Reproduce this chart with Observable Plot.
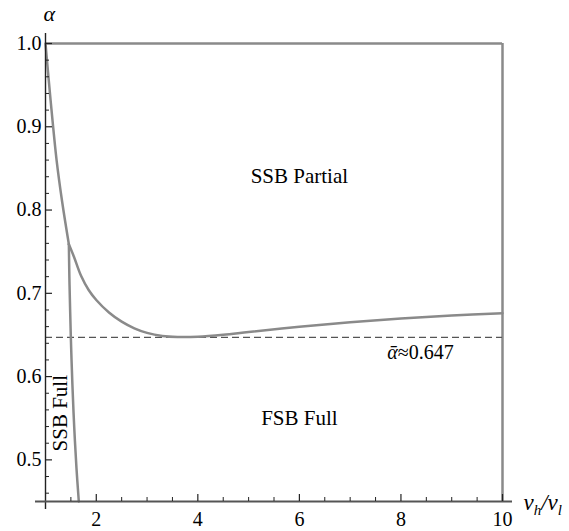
<!DOCTYPE html>
<html>
<head>
<meta charset="utf-8">
<script src="https://cdn.jsdelivr.net/npm/d3@7"></script>
<script src="https://cdn.jsdelivr.net/npm/@observablehq/plot@0.6"></script>
<style>
  html, body { margin: 0; padding: 0; background: #fff; }
  svg text { font-family: "Liberation Serif", "Times New Roman", serif !important; }
</style>
</head>
<body>
<div id="chart"></div>
<script>
// ---- data ----
const xDomain = [1, 10];
const yDomain = [0.45, 1.0];
const xMajorTicks = [2, 4, 6, 8, 10];
const xMinorTicks = [1.5, 2.5, 3, 3.5, 4.5, 5, 5.5, 6.5, 7, 7.5, 8.5, 9, 9.5];
const yMajorTicks = [0.5, 0.6, 0.7, 0.8, 0.9, 1.0];
const yMinorTicks = [0.46, 0.48, 0.52, 0.54, 0.56, 0.58, 0.62, 0.64, 0.66, 0.68,
                     0.72, 0.74, 0.76, 0.78, 0.82, 0.84, 0.86, 0.88, 0.92, 0.94, 0.96, 0.98];

// steep boundary from (1,1) down to the fork
const steepX = [1.0, 1.1, 1.22, 1.33, 1.46];
const steepY = [1.0, 0.932, 0.859, 0.809, 0.759];
// boundary between SSB Partial and FSB Full (from the fork)
const upperX = [1.46, 1.56, 1.7, 1.85, 2.0, 2.25, 2.5, 2.75, 3.0, 3.3, 3.6, 4.0, 4.5, 5, 6, 7, 8, 9, 10];
const upperY = [0.759, 0.744, 0.721, 0.704, 0.692, 0.677, 0.666, 0.658, 0.6525, 0.6488, 0.6476, 0.6479, 0.6502, 0.6535, 0.6598, 0.6652, 0.6697, 0.6733, 0.6762];
// boundary of SSB Full region
const ssbX = [1.46, 1.47, 1.485, 1.505, 1.53, 1.565, 1.61, 1.656];
const ssbY = [0.759, 0.72, 0.68, 0.635, 0.59, 0.54, 0.49, 0.45];

const alphaBar = 0.647;
const regionNames = ["SSB Partial", "FSB Full", "SSB Full"];
const regionX = [6.0, 6.0, 1.29];
const regionY = [0.84, 0.55, 0.556];
const regionRotate = [0, 0, -90];
const alphaBarText = "ᾱ≈0.647";
const alphaBarPos = [7.73, 0.629];

// ---- tables ----
const toPts = (xs, ys) => xs.map((x, i) => ({x, y: ys[i]}));
const steep = toPts(steepX, steepY);
const upper = toPts(upperX, upperY);
const ssb = toPts(ssbX, ssbY);
const regions = regionNames.map((t, i) => ({t, x: regionX[i], y: regionY[i], r: regionRotate[i]}));

const gray = "#8a8a8a";
const ink = "#222";
const FONT = '"Liberation Serif", "Times New Roman", serif';

const chart = Plot.plot({
  width: 569,
  height: 531,
  marginLeft: 45,
  marginRight: 67,
  marginTop: 43,
  marginBottom: 30,
  x: {domain: xDomain},
  y: {domain: yDomain},
  style: {fontFamily: FONT, fontSize: "20px", background: "white", color: "black"},
  marks: [
    // region frame boundaries
    Plot.ruleY([yDomain[1]], {x1: xDomain[0], x2: xDomain[1], stroke: gray, strokeWidth: 2.5}),
    Plot.ruleX([xDomain[1]], {y1: yDomain[0], y2: yDomain[1], stroke: gray, strokeWidth: 2.5}),
    // dashed reference line
    Plot.ruleY([alphaBar], {x1: xDomain[0], x2: xDomain[1], stroke: "#555", strokeWidth: 1.3, strokeDasharray: "7,4"}),
    // curves
    Plot.line(steep, {x: "x", y: "y", curve: "catmull-rom", stroke: gray, strokeWidth: 2.5}),
    Plot.line(upper, {x: "x", y: "y", curve: "catmull-rom", stroke: gray, strokeWidth: 2.5}),
    Plot.line(ssb, {x: "x", y: "y", curve: "catmull-rom", stroke: gray, strokeWidth: 2.5}),
    // region labels
    Plot.text(regions, {x: "x", y: "y", text: "t", rotate: "r", fontSize: 21, fontFamily: FONT, fill: "black"}),
    Plot.text([alphaBarText], {x: () => alphaBarPos[0], y: () => alphaBarPos[1], text: d => d, textAnchor: "start", fontSize: 20, fontFamily: FONT, fill: "black"}),
    // axis lines
    Plot.ruleX([xDomain[0]], {stroke: ink, strokeWidth: 1.4, insetTop: -10, insetBottom: -8}),
    Plot.ruleY([yDomain[0]], {stroke: "#555", strokeWidth: 2, insetLeft: -10, insetRight: -10}),
    // y ticks (pointing inward)
    Plot.ruleY(yMajorTicks, {x1: xDomain[0], x2: xDomain[0], insetRight: -7, stroke: ink, strokeWidth: 1.2}),
    Plot.ruleY(yMinorTicks, {x1: xDomain[0], x2: xDomain[0], insetRight: -4, stroke: ink, strokeWidth: 1}),
    // x ticks (pointing inward)
    Plot.ruleX(xMajorTicks, {y1: yDomain[0], y2: yDomain[0], insetBottom: 7, stroke: ink, strokeWidth: 1.2}),
    Plot.ruleX(xMinorTicks, {y1: yDomain[0], y2: yDomain[0], insetBottom: 4, stroke: ink, strokeWidth: 1}),
    // tick labels
    Plot.axisY({ticks: yMajorTicks, tickSize: 0, tickPadding: 4, tickFormat: d3.format(".1f"), fontSize: 20, fontFamily: FONT, fill: "black", label: null}),
    Plot.axisX({ticks: xMajorTicks, tickSize: 0, tickPadding: 10, tickFormat: d3.format("d"), fontSize: 20, fontFamily: FONT, fill: "black", label: null}),
    // axis titles
    Plot.text(["α"], {frameAnchor: "top-left", text: d => d, dx: -2, dy: -23, lineAnchor: "bottom", fontStyle: "italic", fontSize: 22, fontFamily: FONT, fill: "black"}),
    Plot.text(["vh/vl"], {frameAnchor: "bottom-right", text: d => d, dx: 21, dy: 1, textAnchor: "start", lineAnchor: "middle", fontStyle: "italic", fontSize: 23, fontFamily: FONT, fill: "black"})
  ]
});

document.getElementById("chart").appendChild(chart);

function richText(content, parts) {
  d3.select(chart).selectAll("text")
    .filter(function() { return this.textContent === content; })
    .each(function() {
      const t = d3.select(this);
      t.text(null);
      parts.forEach(p => {
        const ts = t.append("tspan").text(p.text);
        ts.attr("font-style", p.italic ? "italic" : "normal");
        if (p.dy) ts.attr("dy", p.dy);
        if (p.size) ts.attr("font-size", p.size);
      });
    });
}
richText("vh/vl", [
  {text: "v", italic: true},
  {text: "h", italic: true, dy: 5, size: 15},
  {text: "/v", italic: true, dy: -5},
  {text: "l", italic: true, dy: 5, size: 15}
]);
richText(alphaBarText, [
  {text: "ᾱ", italic: true},
  {text: "≈0.647", italic: false}
]);
</script>
</body>
</html>
